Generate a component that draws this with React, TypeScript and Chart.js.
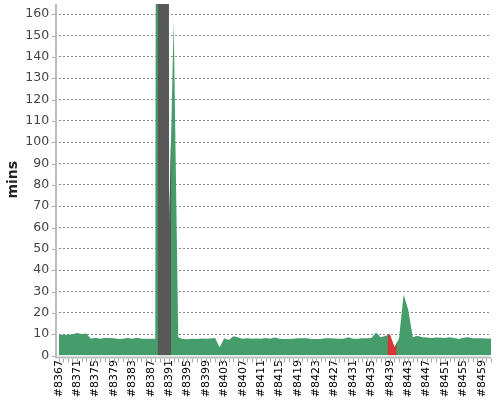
import React, { useEffect, useRef } from 'react';
import { Chart, registerables } from 'chart.js';

Chart.register(...registerables);

// ---- data ----
const firstBuild = 8367;
// build duration in minutes, one per build #8367 … #8461
const buildDurations = [
  9.8, 9.7, 9.7, 10.0, 10.5, 10.1, 10.3, 7.9, 8.3, 7.9,
  8.2, 8.2, 8.1, 7.7, 7.8, 8.2, 7.8, 8.3, 7.8, 7.9,
  7.8, 7.8, 2000, 2000, 60, 157, 8.6, 7.7, 7.6, 7.8,
  7.7, 8.0, 7.9, 8.0, 8.2, 3.9, 8.1, 7.3, 9.0, 8.4,
  7.9, 8.1, 7.9, 8.0, 7.9, 8.2, 7.8, 8.4, 7.9, 7.7,
  7.7, 7.8, 8.1, 8.1, 8.1, 7.7, 7.7, 7.7, 8.1, 8.1,
  8.0, 7.9, 7.9, 8.5, 7.8, 7.8, 8.1, 8.1, 8.2, 10.8,
  8.6, 9.2, 10.0, 3.9, 8.0, 28.6, 21.5, 8.6, 9.3, 8.5,
  8.4, 8.2, 8.4, 8.3, 8.2, 8.5, 8.2, 7.7, 8.3, 8.5,
  8.1, 8.1, 8.1, 8.0, 8.0,
];
const abortedBuilds = [8389, 8390, 8391];
const failedBuilds = [8439, 8440];
const labelEvery = 4;
const yMax = 164.8;
const yStep = 10;
const yTitle = 'mins';

const GREEN = 'rgb(69,157,107)';
const GRAY = 'rgb(88,88,88)';
const RED = 'rgb(217,52,56)';

const builds = buildDurations.map((_, i) => firstBuild + i);
const lastBuild = builds[builds.length - 1];
const valueOf = (b: number) => buildDurations[b - firstBuild];

function statusPoints(list: number[]) {
  const pts: { x: number; y: number | null }[] = [];
  const sorted = [...list].sort((a, b) => a - b);
  let i = 0;
  while (i < sorted.length) {
    let j = i;
    while (j + 1 < sorted.length && sorted[j + 1] === sorted[j] + 1) j++;
    const a = sorted[i];
    const b = sorted[j];
    const prev = valueOf(a - 1);
    const next = valueOf(b + 1);
    pts.push({ x: a - 0.5, y: prev === undefined ? valueOf(a) : (prev + valueOf(a)) / 2 });
    for (let k = a; k <= b; k++) pts.push({ x: k, y: valueOf(k) });
    pts.push({ x: b + 0.5, y: next === undefined ? valueOf(b) : (valueOf(b) + next) / 2 });
    pts.push({ x: b + 0.5, y: null });
    i = j + 1;
  }
  return pts;
}

const axisPlugin = {
  id: 'axisLines',
  afterDraw(chart: any) {
    const { ctx, chartArea, scales } = chart;
    const x0 = chartArea.left - 2.7;
    const y0 = chartArea.bottom + 2;
    ctx.save();
    ctx.strokeStyle = '#bdbdbd';
    ctx.lineWidth = 2;
    ctx.beginPath();
    ctx.moveTo(x0, chartArea.top);
    ctx.lineTo(x0, y0);
    ctx.lineTo(chartArea.right, y0);
    ctx.stroke();
    ctx.lineWidth = 1;
    ctx.strokeStyle = '#aaa';
    scales.y.ticks.forEach((t: any) => {
      const y = Math.round(scales.y.getPixelForValue(t.value)) + 0.5;
      ctx.beginPath();
      ctx.moveTo(x0 - 4, y);
      ctx.lineTo(x0 - 1, y);
      ctx.stroke();
    });
    scales.x.ticks.forEach((t: any) => {
      const x = Math.round(scales.x.getPixelForValue(t.value)) + 0.5;
      ctx.beginPath();
      ctx.moveTo(x, y0 + 1);
      ctx.lineTo(x, y0 + 5);
      ctx.stroke();
    });
    ctx.restore();
  },
};

export default function App() {
  const ref = useRef<HTMLCanvasElement>(null);
  useEffect(() => {
    if (!ref.current) return;
    const chart = new Chart(ref.current, {
      type: 'line',
      data: {
        datasets: [
          {
            label: 'success',
            data: builds.map((b) => ({ x: b, y: valueOf(b) })),
            backgroundColor: GREEN,
            borderColor: 'rgba(0,0,0,0)',
            borderWidth: 0,
            fill: 'origin',
            pointRadius: 0,
            tension: 0,
            order: 2,
          },
          {
            label: 'aborted',
            data: statusPoints(abortedBuilds),
            backgroundColor: GRAY,
            borderColor: 'rgba(0,0,0,0)',
            borderWidth: 0,
            fill: 'origin',
            pointRadius: 0,
            tension: 0,
            order: 1,
          },
          {
            label: 'failed',
            data: statusPoints(failedBuilds),
            backgroundColor: RED,
            borderColor: 'rgba(0,0,0,0)',
            borderWidth: 0,
            fill: 'origin',
            pointRadius: 0,
            tension: 0,
            order: 1,
          },
        ],
      },
      options: {
        responsive: false,
        animation: false,
        events: [],
        plugins: { legend: { display: false }, tooltip: { enabled: false } },
        layout: { padding: { top: 4, right: 9, left: 0, bottom: 0 } },
        scales: {
          x: {
            type: 'linear',
            min: firstBuild,
            max: lastBuild,
            grid: { display: false, drawTicks: false },
            border: { display: false },
            ticks: {
              stepSize: 1,
              autoSkip: false,
              maxTicksLimit: 1000,
              includeBounds: false,
              minRotation: 90,
              maxRotation: 90,
              padding: 4.5,
              color: '#000',
              font: { family: 'DejaVu Sans', size: 11 },
              callback: (v: any) => ((v - firstBuild) % labelEvery === 0 ? '#' + v : ''),
            },
            afterFit: (s: any) => {
              s.height = 44.5;
              s.paddingLeft = 0;
              s.paddingRight = 0;
            },
          },
          y: {
            min: 0,
            max: yMax,
            grid: {
              color: (c: any) => (c.tick && c.tick.value === 0 ? 'rgba(0,0,0,0)' : '#8a8a8a'),
              drawTicks: false,
              lineWidth: 1,
            },
            border: { display: false, dash: [2, 2] },
            ticks: {
              stepSize: yStep,
              includeBounds: false,
              maxTicksLimit: 100,
              padding: 9.5,
              color: '#444',
              font: { family: 'DejaVu Sans', size: 12.5 },
            },
            title: {
              display: true,
              text: yTitle,
              color: '#222',
              font: { family: 'DejaVu Sans', size: 14, weight: 'bold' },
              padding: { top: 5.3, bottom: 0 },
            },
            afterFit: (s: any) => {
              s.width = 58.7;
              s.paddingTop = 0;
              s.paddingBottom = 0;
            },
          },
        },
      },
      plugins: [axisPlugin],
    } as any);
    return () => chart.destroy();
  }, []);
  return (
    <div style={{ position: 'fixed', left: 0, top: 0, width: 500, height: 400, background: '#fff' }}>
      <canvas ref={ref} width={500} height={400} style={{ display: 'block' }} />
    </div>
  );
}
